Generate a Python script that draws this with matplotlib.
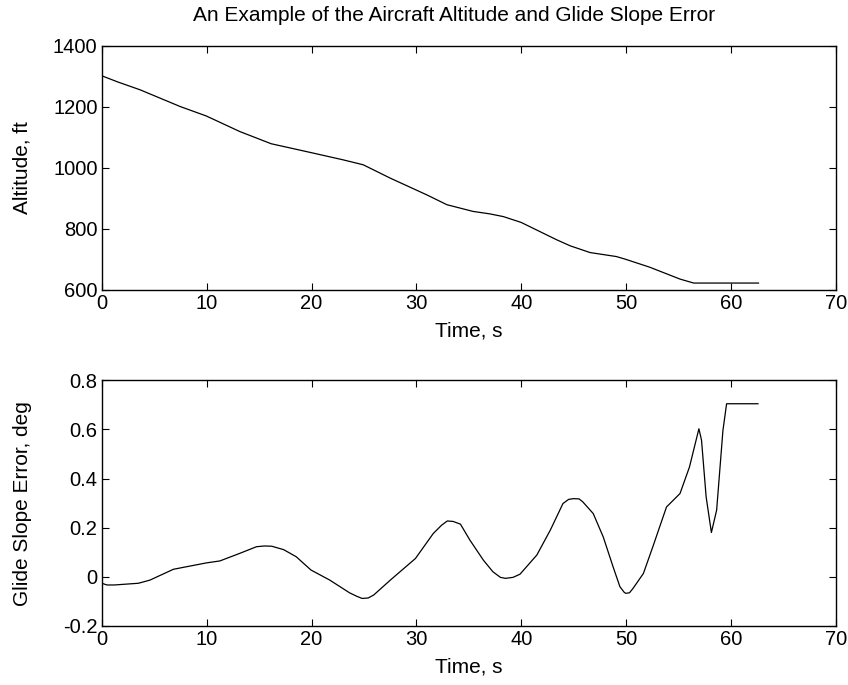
import matplotlib
matplotlib.use("Agg")
import matplotlib.pyplot as plt

plt.rcParams['font.family'] = ['Liberation Sans', 'DejaVu Sans']

# Altitude trace (time s, altitude ft)
alt_time = [0, 1.5, 3.65, 7.48, 9.97, 13.16, 16.15, 19.94, 23.03, 24.92, 27.51, 31.0, 32.9,
            35.39, 36.98, 38.28, 39.97, 43.36, 44.66, 46.55, 49.04, 49.84, 52.23, 55.12,
            56.42, 62.6]
alt_ft = [1302, 1282, 1256, 1201, 1170, 1119, 1079, 1050, 1026, 1010, 966, 911, 879,
          857, 849, 840, 821, 764, 744, 722, 709, 701, 674, 635, 622, 622]

# Glide slope error trace (time s, deg)
gs_time = [0, 0.5, 1.2, 3.5, 4.6, 6.83, 9.97, 11.26, 13.16, 14.75, 15.5, 16.2, 17.34,
           18.54, 19.94, 21.73, 23.62, 24.3, 24.82, 25.4, 25.92, 27.51, 29.9, 31.6, 32.4,
           32.94, 33.5, 34.19, 35.09, 36.38, 37.28, 38.0, 38.48, 39.2, 39.87, 41.47, 42.76,
           43.96, 44.5, 44.96, 45.5, 45.85, 46.85, 47.8, 48.74, 49.39, 49.8, 49.94, 50.3,
           50.64, 51.63, 52.53, 53.83, 55.12, 56.02, 56.92, 57.17, 57.61, 58.11, 58.61,
           59.21, 59.56, 62.55]
gs_deg = [-0.027, -0.034, -0.034, -0.027, -0.014, 0.03, 0.056, 0.064, 0.095, 0.122, 0.125,
          0.124, 0.11, 0.081, 0.027, -0.014, -0.066, -0.08, -0.089, -0.087, -0.075, -0.014,
          0.074, 0.176, 0.21, 0.227, 0.225, 0.214, 0.149, 0.067, 0.02, -0.003, -0.007,
          -0.003, 0.01, 0.088, 0.19, 0.298, 0.315, 0.318, 0.317, 0.305, 0.257, 0.162, 0.04,
          -0.041, -0.064, -0.068, -0.066, -0.048, 0.013, 0.122, 0.284, 0.339, 0.447, 0.603,
          0.556, 0.325, 0.18, 0.271, 0.596, 0.705, 0.705]

title = "An Example of the Aircraft Altitude and Glide Slope Error"
xlabel = "Time, s"
ylabel_top = "Altitude, ft"
ylabel_bot = "Glide Slope Error, deg"
xticks = [0, 10, 20, 30, 40, 50, 60, 70]
yticks_top = [600, 800, 1000, 1200, 1400]
yticks_bot = [-0.2, 0, 0.2, 0.4, 0.6, 0.8]
ytick_labels_bot = ["-0.2", "0", "0.2", "0.4", "0.6", "0.8"]

fig = plt.figure(figsize=(8.48, 6.85), dpi=100)
ax1 = fig.add_axes([0.12, 0.577, 0.866, 0.356])
ax2 = fig.add_axes([0.12, 0.0866, 0.866, 0.358])

tfs = 14.5
lfs = 15
for ax in (ax1, ax2):
    ax.tick_params(direction='in', top=True, right=True, labelsize=tfs, length=5, width=0.8, pad=3)
    for s in ax.spines.values():
        s.set_linewidth(1.0)
    ax.set_xlim(0, 70)
    ax.set_xticks(xticks)
    ax.set_xlabel(xlabel, fontsize=lfs, labelpad=6)

ax1.plot(alt_time, alt_ft, color='black', lw=0.9)
ax1.set_ylim(600, 1400)
ax1.set_yticks(yticks_top)
ax1.set_ylabel(ylabel_top, fontsize=lfs)
ax1.set_title(title, fontsize=lfs, pad=18, x=0.48)

ax2.plot(gs_time, gs_deg, color='black', lw=0.9)
ax2.set_ylim(-0.2, 0.8)
ax2.set_yticks(yticks_bot)
ax2.set_yticklabels(ytick_labels_bot)
ax2.set_ylabel(ylabel_bot, fontsize=lfs)

for ax in (ax1, ax2):
    ax.yaxis.set_label_coords(-0.095, 0.5)

fig.savefig("out.png", dpi=100)
